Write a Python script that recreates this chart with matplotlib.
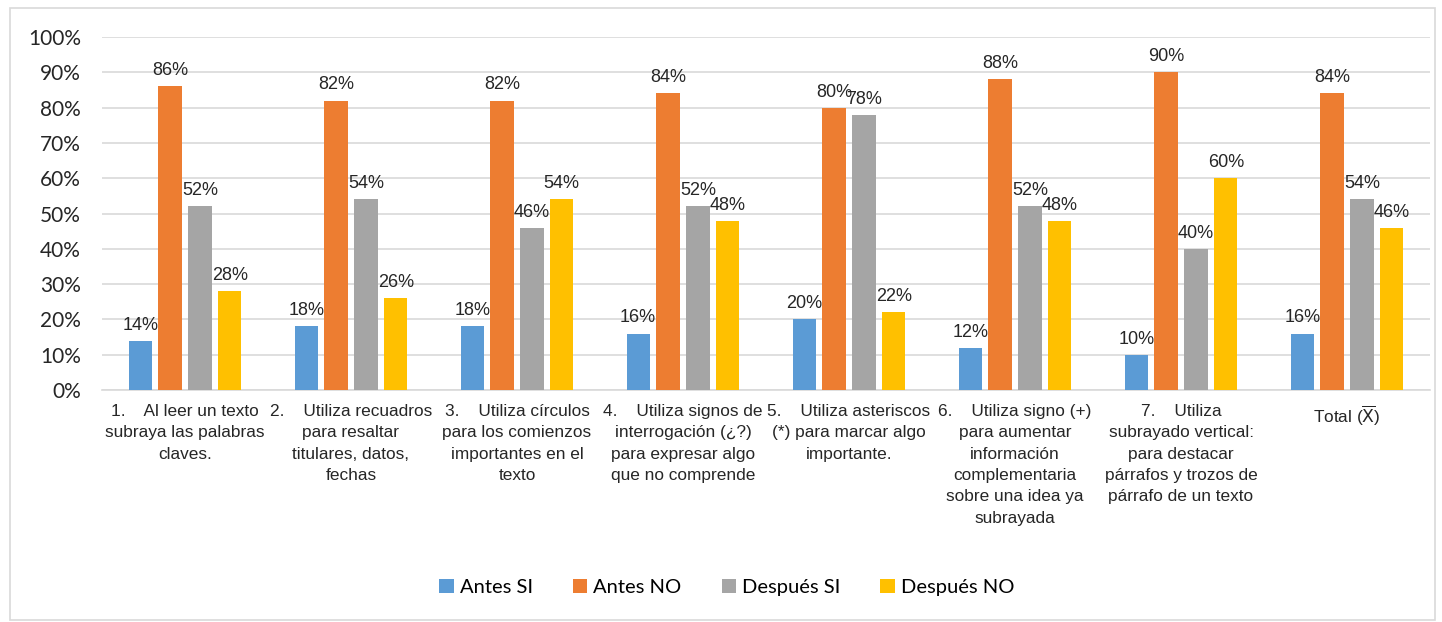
import numpy as np
import matplotlib.pyplot as plt
from matplotlib.patches import Rectangle

categorias = [
    "1.    Al leer un texto\nsubraya las palabras\nclaves.",
    "2.    Utiliza recuadros\npara resaltar\ntitulares, datos,\nfechas",
    "3.    Utiliza círculos\npara los comienzos\nimportantes en el\ntexto",
    "4.    Utiliza signos de\ninterrogación (¿?)\npara expresar algo\nque no comprende",
    "5.    Utiliza asteriscos\n(*) para marcar algo\nimportante.",
    "6.    Utiliza signo (+)\npara aumentar\ninformación\ncomplementaria\nsobre una idea ya\nsubrayada",
    "7.    Utiliza\nsubrayado vertical:\npara destacar\npárrafos y trozos de\npárrafo de un texto",
    "Total ($\\overline{\\mathrm{X}}$)",
]
antes_si = [14, 18, 18, 16, 20, 12, 10, 16]
antes_no = [86, 82, 82, 84, 80, 88, 90, 84]
despues_si = [52, 54, 46, 52, 78, 52, 40, 54]
despues_no = [28, 26, 54, 48, 22, 48, 60, 46]

series = [("Antes SI", antes_si, "#5B9BD5"),
          ("Antes NO", antes_no, "#ED7D31"),
          ("Después SI", despues_si, "#A5A5A5"),
          ("Después NO", despues_no, "#FFC000")]

fig = plt.figure(figsize=(14.42, 6.22), dpi=100)
ax = fig.add_axes([0.0707, 0.373, 0.921, 0.5675])

# marco del gráfico
fig.patches.append(Rectangle((0.007, 0.003), 0.988, 0.984, transform=fig.transFigure,
                             fill=False, edgecolor="#D9D9D9", linewidth=1.2))

x = np.arange(len(categorias))
paso = 0.18
ancho = 0.14
narrow = ["Liberation Sans Narrow", "Liberation Sans", "DejaVu Sans"]

for i, (nombre, vals, color) in enumerate(series):
    pos = x + (i - 1.5) * paso
    barras = ax.bar(pos, vals, width=ancho, color=color, label=nombre, zorder=3)
    for b, v in zip(barras, vals):
        ax.text(b.get_x() + b.get_width() / 2, v + 2, f"{v}%", ha="center", va="bottom",
                fontsize=13, family=narrow, color="#262626", zorder=4)

ax.set_ylim(0, 100)
ax.set_xlim(-0.5, len(categorias) - 0.5)
ax.set_yticks(range(0, 101, 10))
ax.set_yticklabels([f"{v}%" for v in range(0, 101, 10)], family=["Lato", "DejaVu Sans"],
                   fontsize=15, color="#262626")
ax.tick_params(axis="y", length=0, pad=15)
ax.set_xticks(x)
ax.set_xticklabels(categorias, family=["Liberation Sans", "DejaVu Sans"], fontsize=12.4,
                   color="#262626", linespacing=1.53, va="top")
ax.tick_params(axis="x", length=0, pad=10)
ax.grid(axis="y", color="#D9D9D9", linewidth=1.2, zorder=0)
for s in ["top", "right", "left"]:
    ax.spines[s].set_visible(False)
ax.spines["bottom"].set_color("#D9D9D9")
ax.spines["bottom"].set_linewidth(1.2)

fig.legend(loc="center", bbox_to_anchor=(0.504, 0.055), ncol=4, frameon=False,
           prop={"family": ["Lato", "DejaVu Sans"], "size": 14.5}, handlelength=0.7,
           handleheight=0.7, handletextpad=0.3, columnspacing=2.0)

fig.savefig("out.png", dpi=100)
